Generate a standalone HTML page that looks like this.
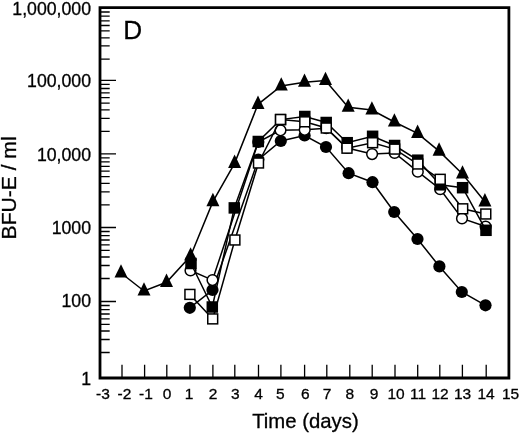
<!DOCTYPE html><html><head><meta charset="utf-8"><style>html,body{margin:0;padding:0;background:#fff}svg{display:block}svg{will-change:transform}text{font-family:"Liberation Sans",sans-serif;fill:#000;stroke:#000;stroke-width:0.3px}</style></head><body>
<svg width="520" height="436" viewBox="0 0 520 436">
<rect width="520" height="436" fill="#fff"/>
<path d="M100.0,378.0 L100.0,7.6 L508.9,7.6 L508.9,378.0 Z" fill="none" stroke="#000" stroke-width="2.8" stroke-linejoin="miter"/>
<path d="M100.0,80.4H116 M100.0,84.4H109.7 M100.0,88.5H109.7 M100.0,92.9H109.7 M100.0,97.7H109.7 M100.0,103.2H109.7 M100.0,109.9H109.7 M100.0,118.4H109.7 M100.0,131.4H109.7 M100.0,153.8H116 M100.0,157.8H109.7 M100.0,161.9H109.7 M100.0,166.3H109.7 M100.0,171.1H109.7 M100.0,176.6H109.7 M100.0,183.3H109.7 M100.0,191.8H109.7 M100.0,204.8H109.7 M100.0,227.5H116 M100.0,231.5H109.7 M100.0,235.6H109.7 M100.0,240.0H109.7 M100.0,244.8H109.7 M100.0,250.3H109.7 M100.0,257.0H109.7 M100.0,265.5H109.7 M100.0,278.5H109.7 M100.0,301.5H116 M100.0,305.5H109.7 M100.0,309.6H109.7 M100.0,314.0H109.7 M100.0,318.8H109.7 M100.0,324.3H109.7 M100.0,331.0H109.7 M100.0,339.5H109.7 M100.0,352.5H109.7 M100.0,12H109.7 M100.0,16.1H109.7 M100.0,20.8H109.7 M100.0,25.5H109.7 M100.0,30.9H109.7 M100.0,37.8H109.7 M100.0,45.8H109.7 M100.0,59.2H109.7 M122,378.0V364.8 M144.6,378.0V364.8 M166.8,378.0V364.8 M190,378.0V364.8 M212.9,378.0V364.8 M234.8,378.0V364.8 M258.5,378.0V364.8 M280.9,378.0V364.8 M304.6,378.0V364.8 M326.8,378.0V364.8 M349.8,378.0V364.8 M372.2,378.0V364.8 M395,378.0V364.8 M417.7,378.0V364.8 M439.8,378.0V364.8 M462.4,378.0V364.8 M486.2,378.0V364.8" fill="none" stroke="#000" stroke-width="1.3"/>
<text x="91" y="14.7" font-size="17.7" text-anchor="end">1,000,000</text>
<text x="91" y="87.1" font-size="17.7" text-anchor="end">100,000</text>
<text x="91" y="160.5" font-size="17.7" text-anchor="end">10,000</text>
<text x="91" y="234.2" font-size="17.7" text-anchor="end">1000</text>
<text x="91" y="307.4" font-size="17.7" text-anchor="end">100</text>
<text x="91" y="384.9" font-size="17.7" text-anchor="end">1</text>
<text x="103" y="399.2" font-size="15.5" text-anchor="middle">-3</text>
<text x="124.5" y="399.2" font-size="15.5" text-anchor="middle">-2</text>
<text x="146" y="399.2" font-size="15.5" text-anchor="middle">-1</text>
<text x="167" y="399.2" font-size="15.5" text-anchor="middle">0</text>
<text x="189" y="399.2" font-size="15.5" text-anchor="middle">1</text>
<text x="213" y="399.2" font-size="15.5" text-anchor="middle">2</text>
<text x="235.4" y="399.2" font-size="15.5" text-anchor="middle">3</text>
<text x="258.5" y="399.2" font-size="15.5" text-anchor="middle">4</text>
<text x="280.3" y="399.2" font-size="15.5" text-anchor="middle">5</text>
<text x="305.2" y="399.2" font-size="15.5" text-anchor="middle">6</text>
<text x="327" y="399.2" font-size="15.5" text-anchor="middle">7</text>
<text x="349.8" y="399.2" font-size="15.5" text-anchor="middle">8</text>
<text x="374" y="399.2" font-size="15.5" text-anchor="middle">9</text>
<text x="396" y="399.2" font-size="15.5" text-anchor="middle">10</text>
<text x="418" y="399.2" font-size="15.5" text-anchor="middle">11</text>
<text x="440" y="399.2" font-size="15.5" text-anchor="middle">12</text>
<text x="462.5" y="399.2" font-size="15.5" text-anchor="middle">13</text>
<text x="486" y="399.2" font-size="15.5" text-anchor="middle">14</text>
<text x="510.5" y="399.2" font-size="15.5" text-anchor="middle">15</text>
<text x="252.2" y="428.3" font-size="20.2" textLength="106.5" lengthAdjust="spacingAndGlyphs">Time (days)</text>
<text transform="translate(16.4,239.4) rotate(-90)" font-size="19.5" textLength="103" lengthAdjust="spacingAndGlyphs">BFU-E / ml</text>
<text x="123.3" y="38.9" font-size="26.2">D</text>
<path d="M121.0,273.0 L144.0,291.0 L166.5,282.3 L190.6,256.0 L212.9,201.6 L234.6,163.4 L258.0,104.3 L281.2,86.0 L304.5,82.2 L325.5,80.5 L348.2,107.2 L371.9,110.0 L394.4,122.0 L417.6,133.4 L439.1,151.1 L462.5,174.0 L484.9,201.8" fill="none" stroke="#000" stroke-width="1.5"/>
<path d="M121,264.2 L127.5,277.6 L114.5,277.6 Z" fill="#000"/>
<path d="M144,282.2 L150.5,295.6 L137.5,295.6 Z" fill="#000"/>
<path d="M166.5,273.5 L173.0,286.9 L160.0,286.9 Z" fill="#000"/>
<path d="M190.6,247.2 L197.1,260.6 L184.1,260.6 Z" fill="#000"/>
<path d="M212.9,192.8 L219.4,206.2 L206.4,206.2 Z" fill="#000"/>
<path d="M234.6,154.6 L241.1,168.0 L228.1,168.0 Z" fill="#000"/>
<path d="M258,95.5 L264.5,108.9 L251.5,108.9 Z" fill="#000"/>
<path d="M281.25,77.2 L287.8,90.6 L274.8,90.6 Z" fill="#000"/>
<path d="M304.5,73.5 L311.0,86.8 L298.0,86.8 Z" fill="#000"/>
<path d="M325.5,71.7 L332.0,85.1 L319.0,85.1 Z" fill="#000"/>
<path d="M348.2,98.5 L354.7,111.8 L341.7,111.8 Z" fill="#000"/>
<path d="M371.9,101.2 L378.4,114.6 L365.4,114.6 Z" fill="#000"/>
<path d="M394.4,113.2 L400.9,126.6 L387.9,126.6 Z" fill="#000"/>
<path d="M417.6,124.6 L424.1,138.0 L411.1,138.0 Z" fill="#000"/>
<path d="M439.1,142.3 L445.6,155.7 L432.6,155.7 Z" fill="#000"/>
<path d="M462.5,165.2 L469.0,178.6 L456.0,178.6 Z" fill="#000"/>
<path d="M484.9,193.0 L491.4,206.4 L478.4,206.4 Z" fill="#000"/>
<path d="M189.8,307.8 L212.5,290.0 L258.3,159.6 L280.8,141.0 L304.6,135.5 L326.0,147.0 L348.6,173.2 L372.5,182.2 L394.2,212.0 L417.5,239.0 L439.4,266.4 L461.8,292.0 L485.5,305.3" fill="none" stroke="#000" stroke-width="1.5"/>
<circle cx="189.8" cy="307.8" r="6.1" fill="#000"/>
<circle cx="212.5" cy="290" r="6.1" fill="#000"/>
<circle cx="258.3" cy="159.6" r="6.1" fill="#000"/>
<circle cx="280.8" cy="141" r="6.1" fill="#000"/>
<circle cx="304.6" cy="135.5" r="6.1" fill="#000"/>
<circle cx="326" cy="147" r="6.1" fill="#000"/>
<circle cx="348.6" cy="173.2" r="6.1" fill="#000"/>
<circle cx="372.5" cy="182.2" r="6.1" fill="#000"/>
<circle cx="394.2" cy="212" r="6.1" fill="#000"/>
<circle cx="417.5" cy="239" r="6.1" fill="#000"/>
<circle cx="439.4" cy="266.4" r="6.1" fill="#000"/>
<circle cx="461.8" cy="292" r="6.1" fill="#000"/>
<circle cx="485.5" cy="305.3" r="6.1" fill="#000"/>
<path d="M190.5,270.5 L212.5,280.1 L258.3,142.0 L280.5,130.3 L304.7,129.8 L326.2,128.2 L347.2,148.0 L372.1,154.1 L394.6,152.9 L417.8,171.7 L440.2,189.2 L462.0,218.4 L485.6,226.5" fill="none" stroke="#000" stroke-width="1.5"/>
<circle cx="190.5" cy="270.5" r="5.35" fill="#fff" stroke="#000" stroke-width="1.5"/>
<circle cx="212.5" cy="280.1" r="5.35" fill="#fff" stroke="#000" stroke-width="1.5"/>
<circle cx="258.3" cy="142" r="5.35" fill="#fff" stroke="#000" stroke-width="1.5"/>
<circle cx="280.5" cy="130.3" r="5.35" fill="#fff" stroke="#000" stroke-width="1.5"/>
<circle cx="304.7" cy="129.8" r="5.35" fill="#fff" stroke="#000" stroke-width="1.5"/>
<circle cx="326.2" cy="128.2" r="5.35" fill="#fff" stroke="#000" stroke-width="1.5"/>
<circle cx="347.2" cy="148" r="5.35" fill="#fff" stroke="#000" stroke-width="1.5"/>
<circle cx="372.1" cy="154.1" r="5.35" fill="#fff" stroke="#000" stroke-width="1.5"/>
<circle cx="394.6" cy="152.9" r="5.35" fill="#fff" stroke="#000" stroke-width="1.5"/>
<circle cx="417.8" cy="171.7" r="5.35" fill="#fff" stroke="#000" stroke-width="1.5"/>
<circle cx="440.2" cy="189.2" r="5.35" fill="#fff" stroke="#000" stroke-width="1.5"/>
<circle cx="462" cy="218.4" r="5.35" fill="#fff" stroke="#000" stroke-width="1.5"/>
<circle cx="485.6" cy="226.5" r="5.35" fill="#fff" stroke="#000" stroke-width="1.5"/>
<path d="M191.0,263.5 L212.3,307.0 L234.3,207.9 L258.3,141.5 L280.6,119.6 L304.8,116.5 L326.2,122.5 L347.2,142.7 L372.6,136.3 L394.6,145.5 L417.8,160.2 L440.2,184.8 L462.6,187.7 L486.0,230.3" fill="none" stroke="#000" stroke-width="1.5"/>
<rect x="185.25" y="257.75" width="11.5" height="11.5" fill="#000"/>
<rect x="206.55" y="301.25" width="11.5" height="11.5" fill="#000"/>
<rect x="228.55" y="202.15" width="11.5" height="11.5" fill="#000"/>
<rect x="252.55" y="135.75" width="11.5" height="11.5" fill="#000"/>
<rect x="274.85" y="113.85" width="11.5" height="11.5" fill="#000"/>
<rect x="299.05" y="110.75" width="11.5" height="11.5" fill="#000"/>
<rect x="320.45" y="116.75" width="11.5" height="11.5" fill="#000"/>
<rect x="341.45" y="136.95" width="11.5" height="11.5" fill="#000"/>
<rect x="366.85" y="130.55" width="11.5" height="11.5" fill="#000"/>
<rect x="388.85" y="139.75" width="11.5" height="11.5" fill="#000"/>
<rect x="412.05" y="154.45" width="11.5" height="11.5" fill="#000"/>
<rect x="434.45" y="179.05" width="11.5" height="11.5" fill="#000"/>
<rect x="456.85" y="181.95" width="11.5" height="11.5" fill="#000"/>
<rect x="480.25" y="224.55" width="11.5" height="11.5" fill="#000"/>
<path d="M189.9,294.4 L212.7,318.9 L234.9,240.0 L258.5,163.0 L280.5,119.5 L304.8,121.8 L326.3,128.0 L347.0,148.2 L372.6,142.7 L394.7,149.1 L417.8,164.0 L440.2,179.3 L462.7,208.8 L485.8,214.0" fill="none" stroke="#000" stroke-width="1.5"/>
<rect x="184.95" y="289.45" width="9.9" height="9.9" fill="#fff" stroke="#000" stroke-width="1.5"/>
<rect x="207.75" y="313.95" width="9.9" height="9.9" fill="#fff" stroke="#000" stroke-width="1.5"/>
<rect x="229.95" y="235.05" width="9.9" height="9.9" fill="#fff" stroke="#000" stroke-width="1.5"/>
<rect x="253.55" y="158.05" width="9.9" height="9.9" fill="#fff" stroke="#000" stroke-width="1.5"/>
<rect x="275.55" y="114.55" width="9.9" height="9.9" fill="#fff" stroke="#000" stroke-width="1.5"/>
<rect x="299.85" y="116.85" width="9.9" height="9.9" fill="#fff" stroke="#000" stroke-width="1.5"/>
<rect x="321.35" y="123.05" width="9.9" height="9.9" fill="#fff" stroke="#000" stroke-width="1.5"/>
<rect x="342.05" y="143.25" width="9.9" height="9.9" fill="#fff" stroke="#000" stroke-width="1.5"/>
<rect x="367.65" y="137.75" width="9.9" height="9.9" fill="#fff" stroke="#000" stroke-width="1.5"/>
<rect x="389.75" y="144.15" width="9.9" height="9.9" fill="#fff" stroke="#000" stroke-width="1.5"/>
<rect x="412.85" y="159.05" width="9.9" height="9.9" fill="#fff" stroke="#000" stroke-width="1.5"/>
<rect x="435.25" y="174.35" width="9.9" height="9.9" fill="#fff" stroke="#000" stroke-width="1.5"/>
<rect x="457.75" y="203.85" width="9.9" height="9.9" fill="#fff" stroke="#000" stroke-width="1.5"/>
<rect x="480.85" y="209.05" width="9.9" height="9.9" fill="#fff" stroke="#000" stroke-width="1.5"/>
</svg></body></html>
